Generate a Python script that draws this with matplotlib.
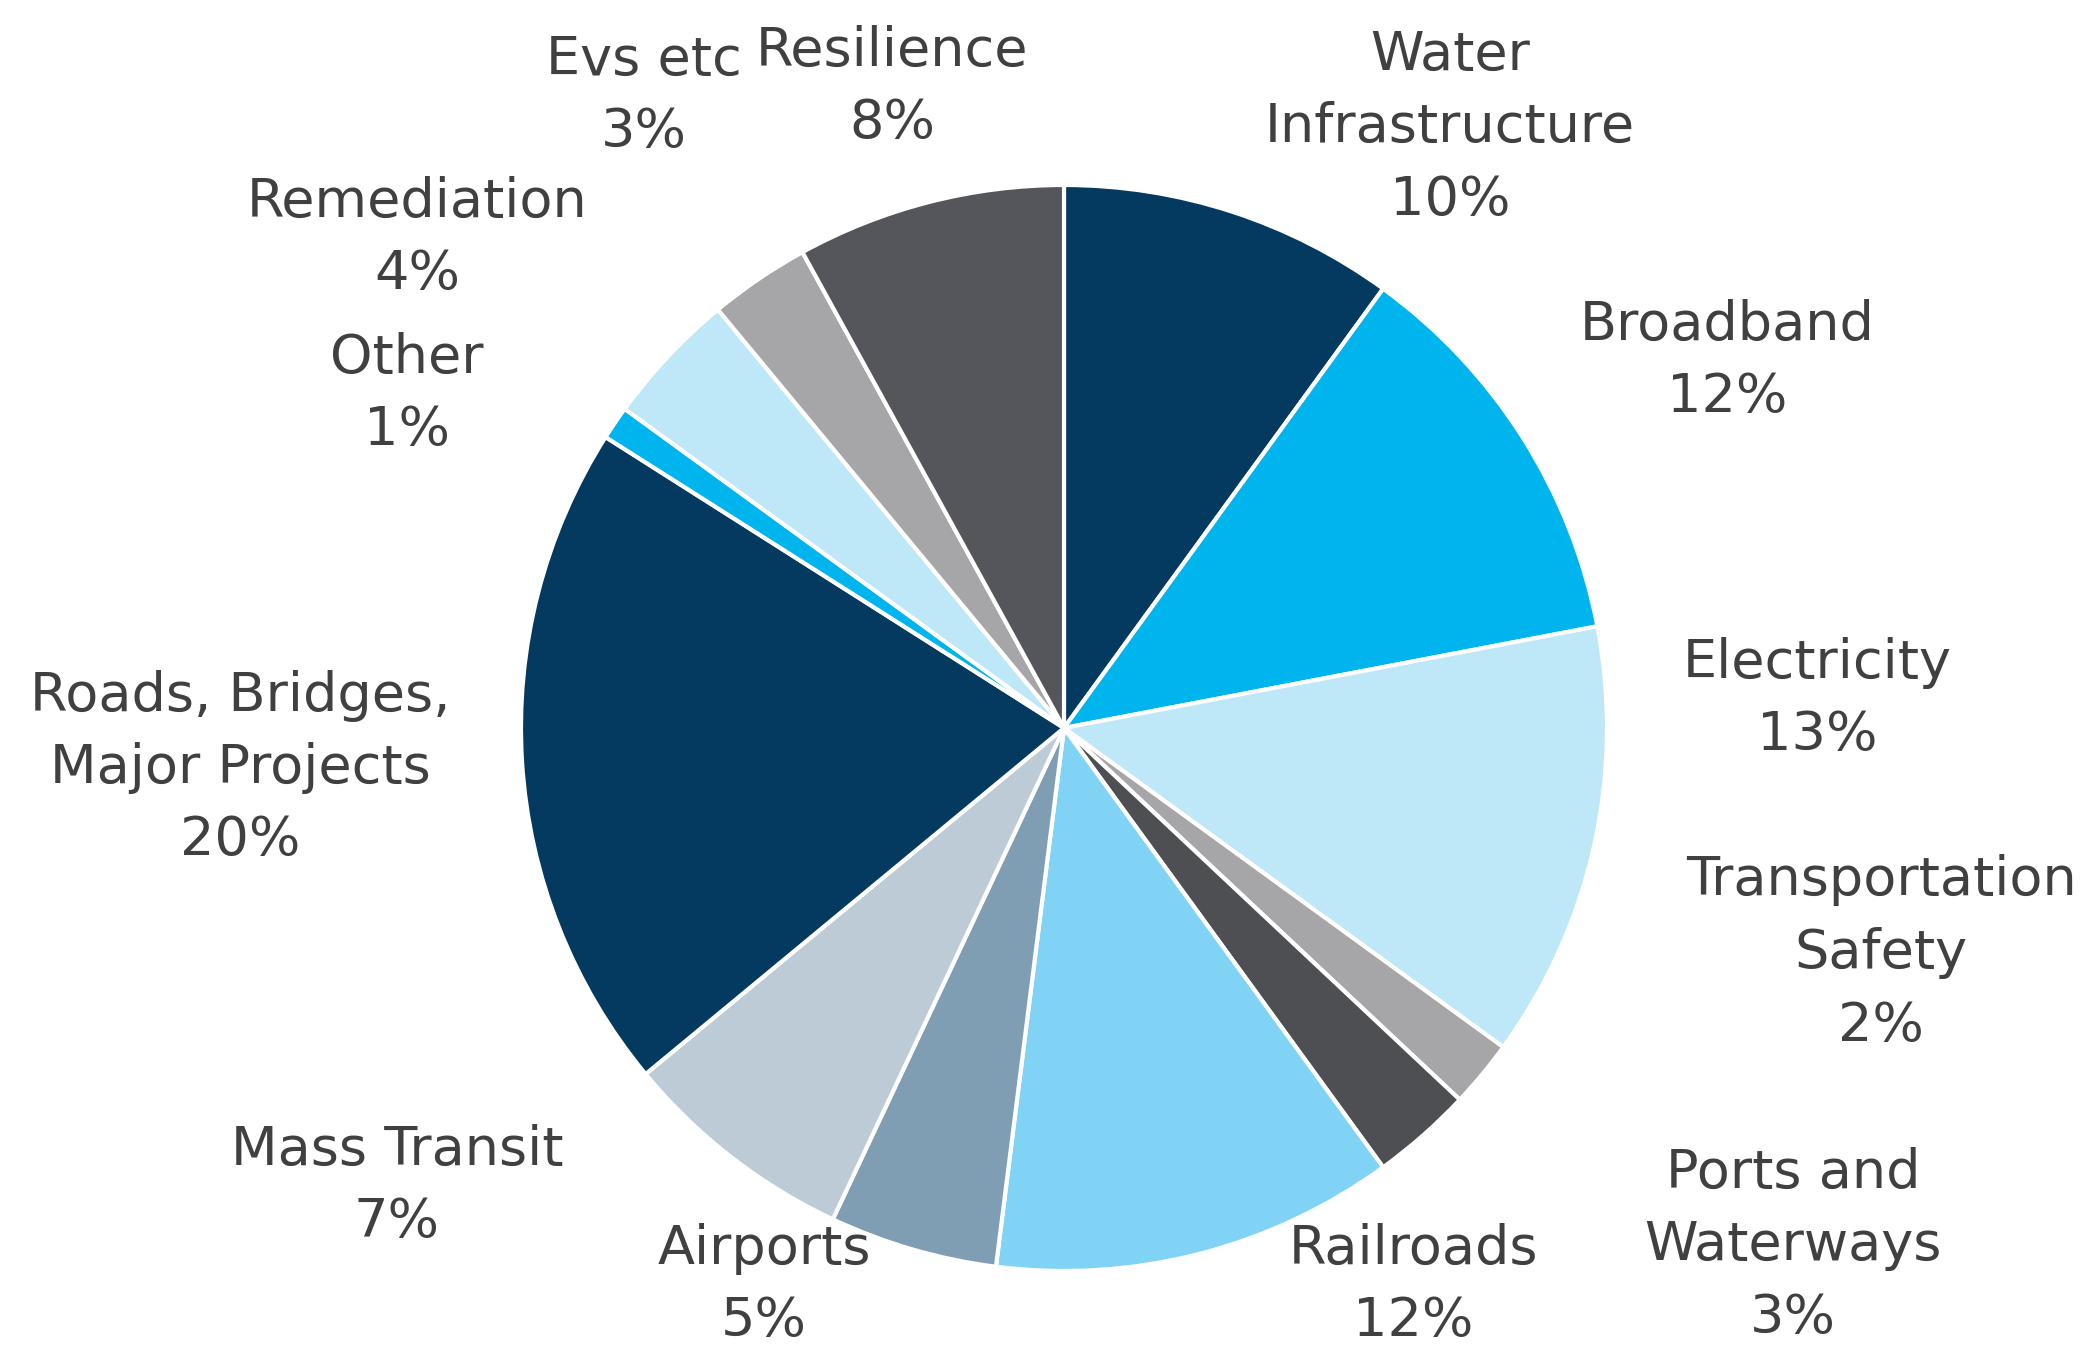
import matplotlib.pyplot as plt

# Доли инфраструктурной программы (по часовой стрелке от 12 часов)
categories = ['Water\nInfrastructure', 'Broadband', 'Electricity', 'Transportation\nSafety',
              'Ports and\nWaterways', 'Railroads', 'Airports', 'Mass Transit',
              'Roads, Bridges,\nMajor Projects', 'Other', 'Remediation', 'Evs etc', 'Resilience']
shares = [10, 12, 13, 2, 3, 12, 5, 7, 20, 1, 4, 3, 8]
colors = ['#053a60', '#00b4ee', '#bee7f7', '#a6a6a8', '#4e4f53', '#80d3f4', '#7f9db3',
          '#bccbd6', '#053a60', '#00b4ee', '#bee7f7', '#a6a6a8', '#55565b']

# Положение подписей (пиксели, ось y вверх)
label_pos = [(1450, 1231), (1727, 997), (1817, 659), (1881, 405), (1793, 113), (1413, 73),
             (764, 73), (397, 172), (240, 590), (407, 964), (417, 1120), (644, 1262), (892, 1271)]

W, H = 2095, 1358
fig = plt.figure(figsize=(W / 100, H / 100), dpi=100)
ax = fig.add_axes([0, 0, 1, 1])

ax.pie(shares, colors=colors, startangle=90, counterclock=False,
       center=(1064, 630), radius=543, frame=True,
       wedgeprops=dict(edgecolor='white', linewidth=3))
ax.set_xlim(0, W)
ax.set_ylim(0, H)
ax.set_aspect('equal')
ax.axis('off')

for name, val, (x, y) in zip(categories, shares, label_pos):
    ax.text(x, y, f'{name}\n{val}%', ha='center', va='center', fontsize=39,
            color='#404040', linespacing=1.5, family='DejaVu Sans')

fig.savefig('out.png', dpi=100, facecolor='white')
